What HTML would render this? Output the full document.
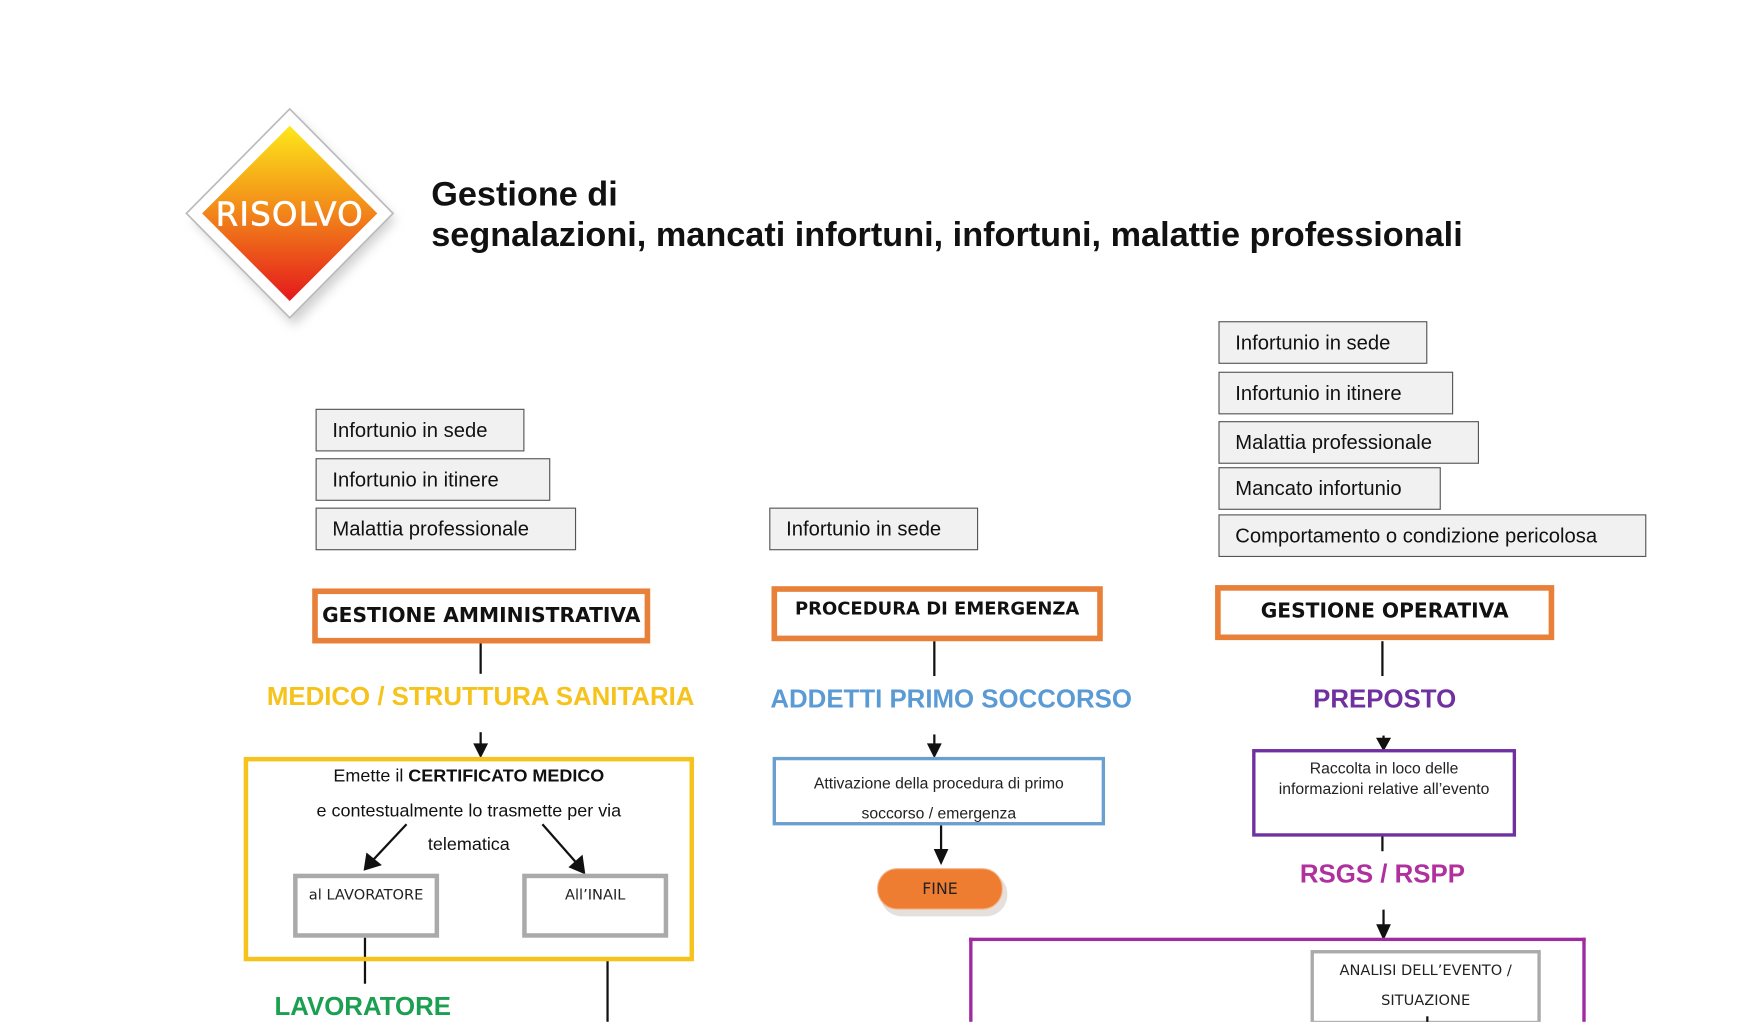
<!DOCTYPE html>
<html><head><meta charset="utf-8"><style>
html,body{margin:0;padding:0;background:#fff;width:1759px;height:1022px;overflow:hidden}
#w{position:absolute;left:0;top:0;width:1566px;height:910px;overflow:hidden;transform:scale(1.123);transform-origin:0 0;font-family:"Liberation Sans",sans-serif}
.a{position:absolute}
.g{position:absolute;background:#f1f1f1;border:1px solid #555;box-sizing:border-box;height:38px;font-size:18px;line-height:36px;padding-left:14px;color:#111;white-space:nowrap}
.o{position:absolute;border:5px solid #e8803a;box-sizing:border-box;background:#fff;text-align:center;font-weight:bold;color:#111;font-family:"DejaVu Sans","Liberation Sans",sans-serif}
.t{position:absolute;font-weight:bold;font-size:23px;text-align:center;white-space:nowrap}
.gb{position:absolute;border:4px solid #aaa;box-sizing:border-box;background:#fff;text-align:center;font-size:13px;font-family:"DejaVu Sans",sans-serif;color:#222}
.c{position:absolute;text-align:center;white-space:nowrap;color:#111}
</style></head><body><div id="w">
<svg class="a" style="left:0;top:0" width="1566" height="910">
<defs><linearGradient id="lg" x1="0" y1="0" x2="0" y2="1"><stop offset="0" stop-color="#fde81a"/><stop offset="0.45" stop-color="#f39019"/><stop offset="1" stop-color="#e4181c"/></linearGradient>
<filter id="sh"><feGaussianBlur stdDeviation="5"/></filter></defs>
<polygon points="262,104 352,196 262,290 172,196" fill="#bbb" filter="url(#sh)" opacity="0.7"/>
<polygon points="258,97 350,190 258,283 166,190" fill="#fff" stroke="#bbb" stroke-width="1.5"/>
<polygon points="258,112 336,190 258,268 180,190" fill="url(#lg)"/>
<text x="258" y="201" text-anchor="middle" font-family="DejaVu Sans,sans-serif" font-size="29" fill="#fff" stroke="#fff" stroke-width="0.5" letter-spacing="1">RISOLVO</text>
<g stroke="#111" stroke-width="2" fill="#111">
<line x1="428" y1="572" x2="428" y2="600"/>
<line x1="428" y1="652" x2="428" y2="664"/><polygon points="423,663 433,663 428,673"/>
<line x1="362" y1="734" x2="332" y2="766"/><polygon points="325,774 327,761 338,770"/>
<line x1="483" y1="734" x2="513" y2="768"/><polygon points="520,777 508,772 518,763"/>
<line x1="325" y1="834" x2="325" y2="876"/>
<line x1="541" y1="855" x2="541" y2="910"/>
<line x1="832" y1="570" x2="832" y2="602"/>
<line x1="832" y1="654" x2="832" y2="664"/><polygon points="827,663 837,663 832,673"/>
<line x1="838" y1="735" x2="838" y2="758"/><polygon points="833,757 843,757 838,768"/>
<line x1="1231" y1="571" x2="1231" y2="602"/>
<line x1="1232" y1="655" x2="1232" y2="659"/><polygon points="1227,658 1237,658 1232,667"/>
<line x1="1231" y1="744" x2="1231" y2="758"/>
<line x1="1232" y1="810" x2="1232" y2="826"/><polygon points="1227,824 1237,824 1232,835"/>
</g>
</svg>
<div class="a" style="left:384px;top:155px;font-size:30.5px;font-weight:bold;line-height:36px;color:#111;white-space:nowrap">Gestione di<br>segnalazioni, mancati infortuni, infortuni, malattie professionali</div>

<div class="g" style="left:281px;top:364px;width:186px">Infortunio in sede</div>
<div class="g" style="left:281px;top:408px;width:209px">Infortunio in itinere</div>
<div class="g" style="left:281px;top:452px;width:232px">Malattia professionale</div>
<div class="g" style="left:685px;top:452px;width:186px">Infortunio in sede</div>
<div class="g" style="left:1085px;top:286px;width:186px">Infortunio in sede</div>
<div class="g" style="left:1085px;top:331px;width:209px">Infortunio in itinere</div>
<div class="g" style="left:1085px;top:375px;width:232px">Malattia professionale</div>
<div class="g" style="left:1085px;top:416px;width:198px">Mancato infortunio</div>
<div class="g" style="left:1085px;top:458px;width:381px">Comportamento o condizione pericolosa</div>

<div class="o" style="left:278px;top:524px;width:301px;height:49px;font-size:18px;line-height:39px">GESTIONE AMMINISTRATIVA</div>
<div class="t" style="left:178px;top:607px;width:500px;color:#f5c31c">MEDICO / STRUTTURA SANITARIA</div>
<div class="a" style="left:217px;top:674px;width:401px;height:182px;border:4px solid #f5c31c;box-sizing:border-box"></div>
<div class="c" style="left:217px;top:683px;width:401px;font-size:16px">Emette il <b>CERTIFICATO MEDICO</b></div>
<div class="c" style="left:217px;top:714px;width:401px;font-size:16px">e contestualmente lo trasmette per via</div>
<div class="c" style="left:217px;top:744px;width:401px;font-size:16px">telematica</div>
<div class="gb" style="left:261px;top:778px;width:130px;height:57px;padding-top:8px">al LAVORATORE</div>
<div class="gb" style="left:465px;top:778px;width:130px;height:57px;padding-top:8px">All’INAIL</div>
<div class="t" style="left:223px;top:883px;width:200px;color:#1aa050">LAVORATORE</div>

<div class="o" style="left:687px;top:522px;width:295px;height:49px;font-size:16px;line-height:30px">PROCEDURA DI EMERGENZA</div>
<div class="t" style="left:647px;top:609px;width:400px;color:#5b9bd5">ADDETTI PRIMO SOCCORSO</div>
<div class="a" style="left:688px;top:674px;width:296px;height:61px;border:3px solid #6a9fd0;box-sizing:border-box"></div>
<div class="c" style="left:688px;top:684px;width:296px;font-size:14px;line-height:27px;color:#222">Attivazione della procedura di primo<br>soccorso / emergenza</div>
<div class="a" style="left:784px;top:777px;width:113px;height:39px;border-radius:19px;background:#e6e0dc"></div>
<div class="a" style="left:781px;top:773px;width:112px;height:37px;border-radius:18px;background:#ee7d31;border:1px solid #f3b48a;box-sizing:border-box;text-align:center;line-height:36px;font-size:14px;font-family:'DejaVu Sans',sans-serif;color:#222">FINE</div>

<div class="o" style="left:1082px;top:521px;width:302px;height:49px;font-size:18px;line-height:37px">GESTIONE OPERATIVA</div>
<div class="t" style="left:1083px;top:609px;width:300px;color:#7030a0">PREPOSTO</div>
<div class="a" style="left:1115px;top:667px;width:235px;height:78px;border:3px solid #7030a0;box-sizing:border-box"></div>
<div class="c" style="left:1115px;top:675px;width:235px;font-size:14px;line-height:18px;color:#222">Raccolta in loco delle<br>informazioni relative all’evento</div>
<div class="t" style="left:1081px;top:765px;width:300px;color:#b0309e">RSGS / RSPP</div>
<div class="a" style="left:863px;top:835px;width:549px;height:75px;border:3px solid #a02aa0;border-bottom:none;box-sizing:border-box"></div>
<div class="gb" style="left:1167px;top:846px;width:205px;height:66px;border-width:3px;font-size:13px;line-height:27px;padding-top:2px">ANALISI DELL’EVENTO /<br>SITUAZIONE</div>
<div class="a" style="left:1270px;top:905px;width:2px;height:10px;background:#111"></div>
</div></body></html>
